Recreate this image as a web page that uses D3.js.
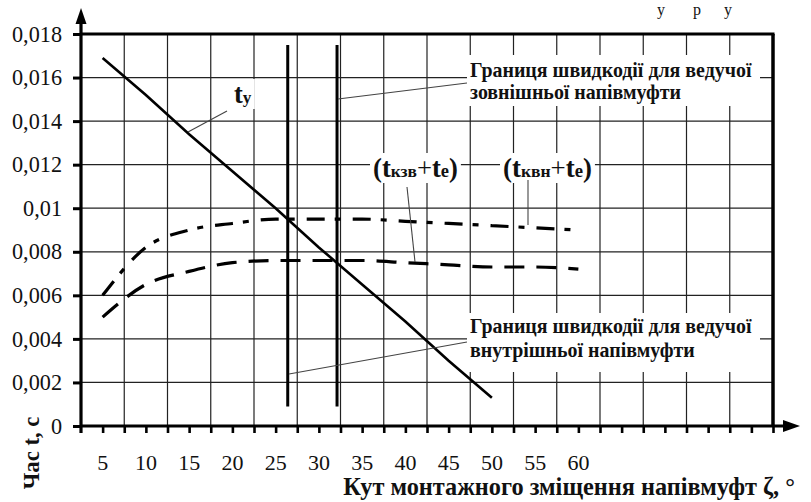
<!DOCTYPE html>
<html><head><meta charset="utf-8">
<script src="https://cdn.jsdelivr.net/npm/d3@7"></script>
<style>
html,body{margin:0;padding:0;background:#fff;}
svg{display:block;}
</style></head>
<body>
<svg id="chart" width="811" height="502"></svg>
<script>
// ---- data ----
const xLabels = [5,10,15,20,25,30,35,40,45,50,55,60];
const yTicks = [0,0.002,0.004,0.006,0.008,0.01,0.012,0.014,0.016,0.018];
const yTickLabels = ["0","0,002","0,004","0,006","0,008","0,01","0,012","0,014","0,016","0,018"];
const tyX = [5,10,15,20,25,30,35,40,45,50];
const tyVals = [0.0169,0.0152,0.0134,0.0117,0.0100,0.0082,0.0065,0.0048,0.0030,0.0013];
const curveX = [5,10,15,20,25,30,35,40,45,50,55,60];
const kvnVals = [0.0060,0.0082,0.0090,0.0093,0.0095,0.0095,0.0095,0.0094,0.0093,0.0092,0.0091,0.0090];
const kzvVals = [0.0050,0.0065,0.0071,0.0075,0.0076,0.0076,0.0076,0.0075,0.0074,0.0073,0.0073,0.0072];
const boundaryX = [26.4, 32.1];
const boundaryRange = [0.0009, 0.0175];
const xTitle = "Кут монтажного зміщення напівмуфт ζ, °";
const yTitle = "Час t, с";
const noteTop = ["Границя швидкодії для ведучої","зовнішньої напівмуфти"];
const noteBottom = ["Границя швидкодії для ведучої","внутрішньої напівмуфти"];

const FONT = '"Liberation Serif", "Times New Roman", serif';

const svg = d3.select("#chart").attr("font-family", FONT).attr("fill","#111");
const x = d3.scaleLinear().domain([2.5, 82.5]).range([81, 773]);
const y = d3.scaleLinear().domain([0, 0.018]).range([426, 34]);

function fit(sel, target){
  const node = sel.node();
  const w = node.getBBox().width;
  if (!w) return;
  const k = target / w;
  const own = parseFloat(sel.attr("font-size"));
  if (own) sel.attr("font-size", own * k);
  sel.selectAll("tspan").each(function(){
    const s = d3.select(this); const f = parseFloat(s.attr("font-size"));
    if (f) s.attr("font-size", f * k);
  });
}

// page fragments at the top
[["у",657],["р",693],["у",724]].forEach(d=>{
  svg.append("text").attr("x",d[1]).attr("y",15).attr("font-size",16).attr("fill","#111").text(d[0]);
});

// gridlines
const grid = svg.append("g").attr("stroke","#222").attr("stroke-width",1.2);
yTicks.filter(v=>v>0 && v<0.018).forEach(v=>{
  grid.append("line").attr("x1",x(2.5)).attr("x2",x(82.5)).attr("y1",y(v)).attr("y2",y(v));
});
d3.range(7.5, 80, 5).forEach(v=>{
  grid.append("line").attr("x1",x(v)).attr("x2",x(v)).attr("y1",y(0.018)).attr("y2",y(0));
});

// frame top and right
svg.append("line").attr("x1",x(2.5)).attr("x2",x(82.5)+1.5).attr("y1",y(0.018)).attr("y2",y(0.018))
  .attr("stroke","#000").attr("stroke-width",3);
svg.append("line").attr("x1",x(82.5)).attr("x2",x(82.5)).attr("y1",y(0.018)).attr("y2",y(0))
  .attr("stroke","#000").attr("stroke-width",3.5);

// boundary lines
boundaryX.forEach(b=>{
  svg.append("line").attr("x1",x(b)).attr("x2",x(b)).attr("y1",y(boundaryRange[1])).attr("y2",y(boundaryRange[0]))
    .attr("stroke","#000").attr("stroke-width",3);
});

// series
const lineGen = (xs, vs, curve) => d3.line().x((d,i)=>x(xs[i])).y(d=>y(d)).curve(curve)(vs);
svg.append("path").attr("d", lineGen(tyX, tyVals, d3.curveLinear))
  .attr("fill","none").attr("stroke","#000").attr("stroke-width",2.6);
svg.append("path").attr("d", lineGen(curveX, kvnVals, d3.curveMonotoneX))
  .attr("fill","none").attr("stroke","#000").attr("stroke-width",3.2).attr("stroke-dasharray","18,10,6,12");
svg.append("path").attr("d", lineGen(curveX, kzvVals, d3.curveMonotoneX))
  .attr("fill","none").attr("stroke","#000").attr("stroke-width",3.2).attr("stroke-dasharray","20,12");

// axes
const axes = svg.append("g");
axes.append("line").attr("x1",x(2.5)).attr("x2",x(2.5)).attr("y1",433).attr("y2",20)
  .attr("stroke","#000").attr("stroke-width",3.2);
axes.append("path").attr("d",`M${x(2.5)},8 L${x(2.5)-5.5},24 L${x(2.5)+5.5},24 Z`).attr("fill","#000");
axes.append("line").attr("x1",x(2.5)).attr("x2",788).attr("y1",y(0)).attr("y2",y(0))
  .attr("stroke","#000").attr("stroke-width",3.2);
axes.append("path").attr("d",`M800,${y(0)} L783,${y(0)-6} L783,${y(0)+6} Z`).attr("fill","#000");

const yAxis = d3.axisLeft(y).tickValues(yTicks).tickSize(8).tickPadding(11)
  .tickFormat((d,i)=>yTickLabels[i]);
const gy = svg.append("g").attr("transform",`translate(${x(2.5)},0)`).call(yAxis);
gy.attr("font-family",FONT).attr("font-size",null);
gy.select(".domain").remove();
gy.selectAll(".tick line").attr("stroke","#000").attr("stroke-width",3);
gy.selectAll(".tick text").attr("font-size",21).attr("fill","#111").attr("font-family",FONT);
{
  const t = gy.selectAll(".tick text").filter((d,i)=>i===yTicks.length-1);
  const w = t.node().getBBox().width;
  gy.selectAll(".tick text").attr("font-size", 21*50/w);
}

const xAxis = d3.axisBottom(x).tickValues(d3.range(5, 83, 2.5)).tickSize(7).tickFormat("");
const gx = svg.append("g").attr("transform",`translate(0,${y(0)})`).call(xAxis);
gx.select(".domain").remove();
gx.selectAll(".tick line").attr("stroke","#000").attr("stroke-width",2.6);
const xl = svg.append("g").selectAll("text").data(xLabels).join("text")
  .attr("x",d=>x(d)).attr("y",470).attr("text-anchor","middle").attr("font-size",21).attr("fill","#111").text(d=>d);
{
  const w = xl.filter(d=>d===10).node().getBBox().width;
  xl.attr("font-size", 21*22/w);
}

// titles
const xt = svg.append("text").attr("x",795).attr("y",495).attr("text-anchor","end")
  .attr("font-size",20).attr("font-weight","bold").text(xTitle);
fit(xt, 452);
const yt = svg.append("text").attr("transform","translate(39,453) rotate(-90)").attr("text-anchor","middle")
  .attr("font-size",22).attr("font-weight","bold").text(yTitle);
fit(yt, 73);

// boxed notes
function note(lines, x0, ys, box){
  svg.append("rect").attr("x",box[0]).attr("y",box[1]).attr("width",box[2]-box[0]).attr("height",box[3]-box[1]).attr("fill","#fff");
  const ts = lines.map((t,i)=>svg.append("text").attr("x",x0).attr("y",ys[i]).attr("font-size",17).attr("font-weight","bold").text(t));
  const w = ts[0].node().getBBox().width;
  ts.forEach(t=>t.attr("font-size", 17*282/w));
}
note(noteTop, 470, [77,99], [467,55,760,106]);
note(noteBottom, 470, [333,357], [467,313,760,372]);

// formula labels
function formula(x0, base, parts, target){
  const t = svg.append("text").attr("x",x0).attr("y",base);
  parts.forEach(p=>{
    t.append("tspan").attr("font-size",p[1]).attr("font-weight",p[2]?"bold":"normal").text(p[0]);
  });
  fit(t, target);
  const bb = t.node().getBBox();
  svg.insert("rect", function(){return t.node();}).attr("x",bb.x-3).attr("y",bb.y).attr("width",bb.width+6).attr("height",bb.height).attr("fill","#fff");
  return t;
}
formula(373, 177, [["(",23,1],["t",23,1],["кзв",15,1],["+",23,0],["t",23,1],["e",16,1],[")",23,1]], 85);
formula(503, 177, [["(",23,1],["t",23,1],["квн",15,1],["+",23,0],["t",23,1],["e",16,1],[")",23,1]], 89);
formula(234, 103, [["t",23,1],["у",15,1]], 18);

// leader lines
const leaders = svg.append("g").attr("stroke","#444").attr("stroke-width",1.1);
[[227,111,188,132],[407,187,415,262],[528,180,528,225],[338,99,467,83],[289,374,467,342]].forEach(l=>{
  leaders.append("line").attr("x1",l[0]).attr("y1",l[1]).attr("x2",l[2]).attr("y2",l[3]);
});
</script>
</body></html>
